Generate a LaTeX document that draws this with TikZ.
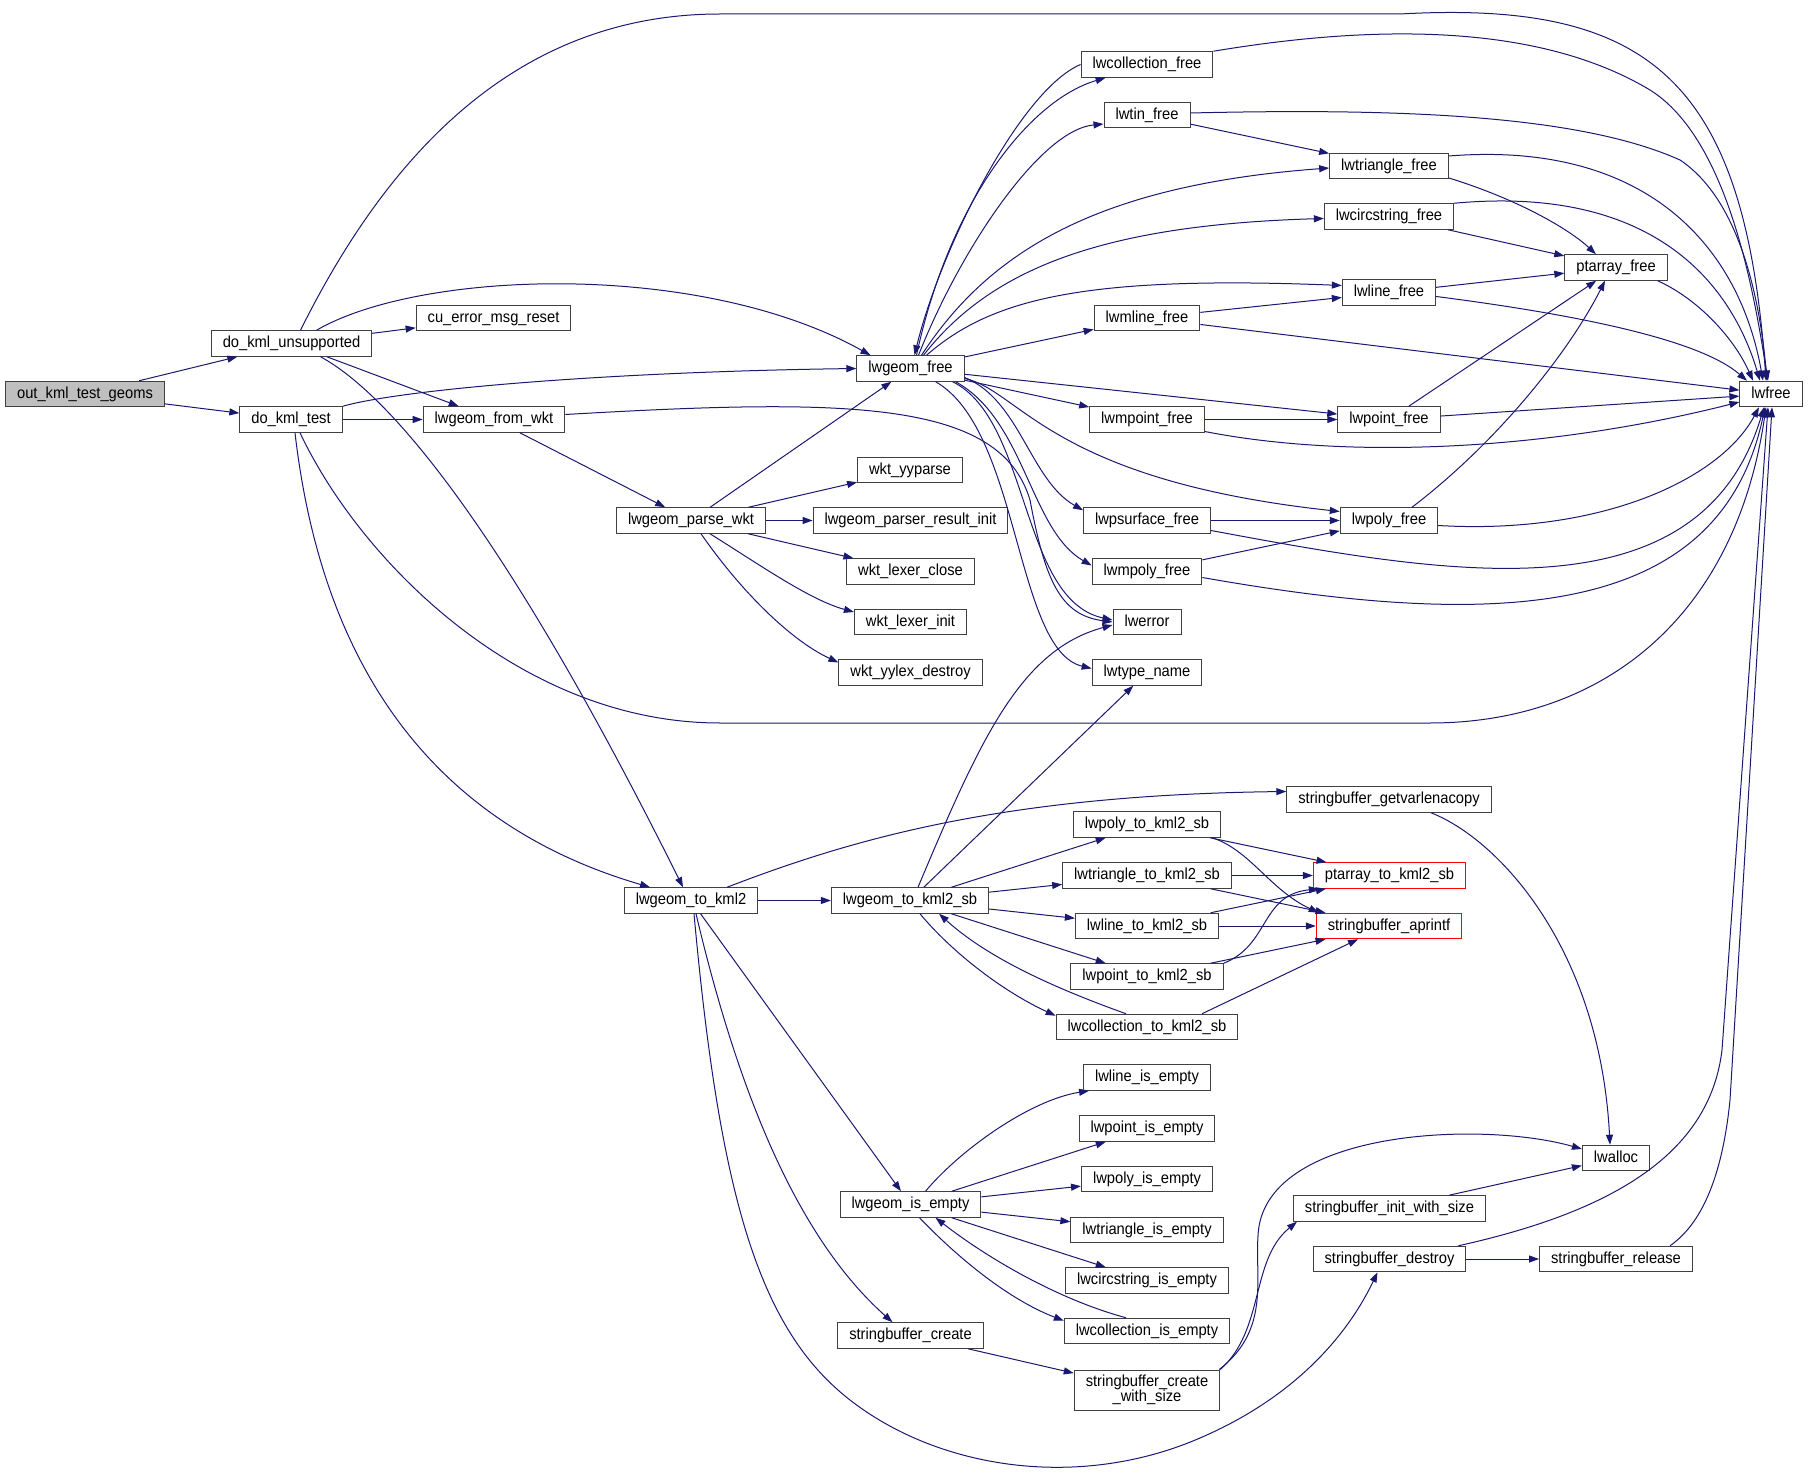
\documentclass[tikz,border=0pt]{standalone}
\usepackage{fontspec}
\setmainfont{Liberation Sans}[FakeStretch=0.92]
\usepackage{tikz}
\usetikzlibrary{arrows.meta}
\definecolor{callblue}{RGB}{25,25,112}
\definecolor{boxgray}{RGB}{64,64,64}
\definecolor{rootgray}{RGB}{191,191,191}
\tikzset{
  fnbox/.style={draw=boxgray, line width=1pt, fill=white, inner xsep=11.5pt, inner ysep=0pt,
    minimum height=25.5pt, text height=12pt, text depth=3.5pt, font=\fontsize{16}{18}\selectfont},
  rootbox/.style={fnbox, fill=rootgray},
  redbox/.style={fnbox, draw=red},
  call/.style={draw=callblue, line width=1pt, -{Triangle[length=10pt,width=7pt]}},
}

\begin{document}
\begin{tikzpicture}[x=1pt,y=-1pt]
        \useasboundingbox (0,0) rectangle (1808,1479);
        % callers
        \node[rootbox] (root) at (85,394) {out\_kml\_test\_geoms};
        \node[fnbox] (dku) at (291.5,343.5) {do\_kml\_unsupported};
        \node[fnbox] (dkt) at (291,419.5) {do\_kml\_test};
        \node[fnbox] (cuerr) at (493.5,318) {cu\_error\_msg\_reset};
        \node[fnbox] (fromwkt) at (494,419.5) {lwgeom\_from\_wkt};
        \node[fnbox] (parse) at (691,520.5) {lwgeom\_parse\_wkt};
        \node[fnbox] (tokml) at (691,900.5) {lwgeom\_to\_kml2};
        \node[fnbox] (gfree) at (910.5,368.5) {lwgeom\_free};
        \node[fnbox] (yyparse) at (910,470) {wkt\_yyparse};
        \node[fnbox] (resinit) at (910.5,520.5) {lwgeom\_parser\_result\_init};
        \node[fnbox] (lexclose) at (910.5,571.5) {wkt\_lexer\_close};
        \node[fnbox] (lexinit) at (910.5,622) {wkt\_lexer\_init};
        \node[fnbox] (yylexdestroy) at (910.5,672.5) {wkt\_yylex\_destroy};
        \node[fnbox] (tokmlsb) at (910,900.5) {lwgeom\_to\_kml2\_sb};
        \node[fnbox] (isempty) at (910.5,1204.5) {lwgeom\_is\_empty};
        \node[fnbox] (sbcreate) at (910.5,1335.5) {stringbuffer\_create};
        % middle column
        \node[fnbox] (collfree) at (1147,64.5) {lwcollection\_free};
        \node[fnbox] (tinfree) at (1147,115) {lwtin\_free};
        \node[fnbox] (mlinefree) at (1147,318) {lwmline\_free};
        \node[fnbox] (mpointfree) at (1147,419.5) {lwmpoint\_free};
        \node[fnbox] (psurffree) at (1147,520.5) {lwpsurface\_free};
        \node[fnbox] (mpolyfree) at (1147,571.5) {lwmpoly\_free};
        \node[fnbox] (lwerror) at (1147,622) {lwerror};
        \node[fnbox] (typename) at (1147,672.5) {lwtype\_name};
        \node[fnbox] (polykml) at (1147,824.5) {lwpoly\_to\_kml2\_sb};
        \node[fnbox] (trikml) at (1147,875.5) {lwtriangle\_to\_kml2\_sb};
        \node[fnbox] (linekml) at (1147,926) {lwline\_to\_kml2\_sb};
        \node[fnbox] (pointkml) at (1147,976.5) {lwpoint\_to\_kml2\_sb};
        \node[fnbox] (collkml) at (1147,1027) {lwcollection\_to\_kml2\_sb};
        \node[fnbox] (lineempty) at (1147,1077.5) {lwline\_is\_empty};
        \node[fnbox] (pointempty) at (1147,1128.5) {lwpoint\_is\_empty};
        \node[fnbox] (polyempty) at (1147,1179) {lwpoly\_is\_empty};
        \node[fnbox] (triempty) at (1147,1230) {lwtriangle\_is\_empty};
        \node[fnbox] (circempty) at (1147,1280.5) {lwcircstring\_is\_empty};
        \node[fnbox] (collempty) at (1147,1331) {lwcollection\_is\_empty};
        \node[fnbox, align=center, text height={}, text depth={}, minimum height=40pt,
              font=\fontsize{16}{15}\selectfont] (sbcws) at (1147,1390) {stringbuffer\_create\\\_with\_size};
        % right columns
        \node[fnbox] (trifree) at (1389,166) {lwtriangle\_free};
        \node[fnbox] (circfree) at (1389,216.5) {lwcircstring\_free};
        \node[fnbox] (linefree) at (1389,292.5) {lwline\_free};
        \node[fnbox] (pointfree) at (1389,419.5) {lwpoint\_free};
        \node[fnbox] (polyfree) at (1389,520.5) {lwpoly\_free};
        \node[fnbox] (getvar) at (1389,799.5) {stringbuffer\_getvarlenacopy};
        \node[redbox] (ptkml) at (1389.5,875.5) {ptarray\_to\_kml2\_sb};
        \node[redbox] (aprintf) at (1389,926) {stringbuffer\_aprintf};
        \node[fnbox] (initws) at (1389.5,1208.5) {stringbuffer\_init\_with\_size};
        \node[fnbox] (sbdestroy) at (1389.5,1259) {stringbuffer\_destroy};
        \node[fnbox] (ptfree) at (1616,267.5) {ptarray\_free};
        \node[fnbox] (lwalloc) at (1616,1158) {lwalloc};
        \node[fnbox] (release) at (1616,1259) {stringbuffer\_release};
        \node[fnbox] (lwfree) at (1771,394) {lwfree};

        % test functions
        \draw[call] (root) -- (dku);
        \draw[call] (root) -- (dkt);
        \draw[call] (dku) -- (cuerr);
        \draw[call] (dku) -- (fromwkt);
        \draw[call] ([xshift=9pt]dku.north) .. controls (390,150) and (520,14) .. (720,14) -- (1400,14)
                    .. controls (1650,0) and (1745,80) .. ([xshift=-5pt]lwfree.north);
        \draw[call] ([xshift=25pt]dku.north) .. controls (420,270) and (700,260) .. ([xshift=-40pt]gfree.north);
        \draw[call] ([xshift=29pt]dku.south) .. controls (400,400) and (520,560) .. ([xshift=-8pt]tokml.north);
        \draw[call] (dkt.north east) .. controls (400,390) and (600,372) .. (gfree.west);
        \draw[call] (dkt) -- (fromwkt);
        \draw[call] ([xshift=4pt]dkt.south) .. controls (320,650) and (420,820) .. ([xshift=-41pt]tokml.north);
        \draw[call] ([xshift=9pt]dkt.south) .. controls (360,560) and (520,723) .. (720,723) -- (1430,723)
                    .. controls (1600,723) and (1735,620) .. ([xshift=-5pt]lwfree.south);
        \draw[call] (fromwkt) -- (parse);
        \draw[call] ([yshift=5pt]fromwkt.east) .. controls (850,398) and (1000,400) .. (1030,500)
                    .. controls (1045,580) and (1060,615) .. (lwerror.west);

        % lwgeom_free
        \draw[call] ([xshift=6pt]gfree.north) .. controls (950,200) and (1030,100) .. ([xshift=25pt]collfree.south west);
        \draw[call] (collfree.west) .. controls (1020,90) and (940,250) .. ([xshift=4pt]gfree.north);
        \draw[call] ([xshift=8pt]gfree.north) .. controls (960,250) and (1040,130) .. ([yshift=-9pt]tinfree.west);
        \draw[call] ([xshift=11pt]gfree.north) .. controls (990,250) and (1100,185) .. ([yshift=-2pt]trifree.west);
        \draw[call] ([xshift=13pt]gfree.north) .. controls (990,270) and (1100,225) .. ([yshift=-2pt]circfree.west);
        \draw[call] ([xshift=16pt]gfree.north) .. controls (990,300) and (1080,275) .. ([yshift=7pt]linefree.west);
        \draw[call] (gfree) -- (mlinefree);
        \draw[call] (gfree) -- (pointfree);
        \draw[call] (gfree) -- (mpointfree);
        \draw[call] ([yshift=-10pt]gfree.east) .. controls (1020,390) and (1050,480) .. ([yshift=9pt]polyfree.west);
        \draw[call] ([yshift=-9pt]gfree.east) .. controls (1020,400) and (1030,480) .. ([yshift=-3pt]psurffree.north west);
        \draw[call] ([xshift=-9pt]gfree.south east) .. controls (1025,420) and (1030,530) .. ([yshift=6pt]mpolyfree.west);
        \draw[call] ([xshift=-12pt]gfree.south east) .. controls (1030,420) and (1020,600) .. ([yshift=2pt]lwerror.west);
        \draw[call] ([xshift=-29pt]gfree.south east) .. controls (1020,430) and (1015,650) .. ([yshift=4pt]typename.west);

        % free functions
        \draw[call] (tinfree) -- (trifree);
        \draw[call] (mlinefree) -- (linefree);
        \draw[call] (mpointfree) -- (pointfree);
        \draw[call] (psurffree) -- (polyfree);
        \draw[call] (mpolyfree) -- (polyfree);
        \draw[call] ([yshift=-12pt]trifree.east) .. controls (1520,200) and (1570,230) .. ([xshift=-20pt]ptfree.north);
        \draw[call] (circfree) -- (ptfree);
        \draw[call] (linefree) -- (ptfree);
        \draw[call] (pointfree) -- (ptfree);
        \draw[call] ([xshift=23pt]polyfree.north) .. controls (1500,440) and (1570,350) .. ([xshift=-11pt]ptfree.south);
        \draw[call] (collfree.north east) .. controls (1400,20) and (1550,30) .. (1650,90)
                    .. controls (1730,140) and (1755,300) .. ([xshift=-3pt]lwfree.north);
        \draw[call] ([yshift=2pt]tinfree.east) .. controls (1400,108) and (1580,115) .. (1680,160)
                    .. controls (1740,200) and (1760,300) .. ([xshift=-4pt]lwfree.north);
        \draw[call] ([yshift=10pt]trifree.east) .. controls (1650,140) and (1740,250) .. ([xshift=-8pt]lwfree.north);
        \draw[call] (circfree.north east) .. controls (1650,185) and (1730,280) .. ([xshift=-11pt]lwfree.north);
        \draw[call] ([xshift=-10pt]ptfree.south east) .. controls (1700,300) and (1735,340) .. ([xshift=-18pt]lwfree.north);
        \draw[call] ([yshift=-4pt]linefree.east) .. controls (1580,315) and (1700,340) .. ([xshift=-24pt]lwfree.north);
        \draw[call] (mlinefree) -- (lwfree);
        \draw[call] (pointfree) -- (lwfree);
        \draw[call] ([yshift=-12pt]mpointfree.east) .. controls (1350,460) and (1550,450) .. ([yshift=-8pt]lwfree.west);
        \draw[call] ([yshift=-5pt]polyfree.east) .. controls (1600,535) and (1720,480) .. ([xshift=-12pt]lwfree.south);
        \draw[call] ([yshift=-10pt]psurffree.east) .. controls (1450,575) and (1700,620) .. ([xshift=-7pt]lwfree.south);
        \draw[call] ([yshift=-6pt]mpolyfree.east) .. controls (1500,630) and (1720,620) .. ([xshift=-6pt]lwfree.south);

        % wkt parser
        \draw[call] (parse) -- (gfree);
        \draw[call] (parse) -- (yyparse);
        \draw[call] (parse) -- (resinit);
        \draw[call] (parse) -- (lexclose);
        \draw[call] ([xshift=19pt]parse.south) .. controls (760,565) and (810,600) .. ([yshift=10pt]lexinit.west);
        \draw[call] ([xshift=10pt]parse.south) .. controls (740,590) and (790,640) .. ([yshift=10pt]yylexdestroy.west);

        % kml output
        \draw[call] (tokml) -- (tokmlsb);
        \draw[call] ([xshift=36pt]tokml.north) .. controls (850,840) and (1000,795) .. ([yshift=8pt]getvar.west);
        \draw[call] (tokml) -- (isempty);
        \draw[call] ([xshift=5pt]tokml.south) .. controls (740,1100) and (800,1240) .. ([xshift=-18pt]sbcreate.north);
        \draw[call] ([xshift=3pt]tokml.south) .. controls (720,1200) and (760,1330) .. (850,1400)
                    .. controls (940,1470) and (1080,1490) .. (1200,1438)
                    .. controls (1300,1395) and (1350,1330) .. ([xshift=-12pt]sbdestroy.south);
        \draw[call] ([xshift=8pt]tokmlsb.north) .. controls (980,740) and (1020,650) .. ([yshift=-3pt]lwerror.west);
        \draw[call] (tokmlsb) -- (typename);
        \draw[call] (tokmlsb) -- (polykml);
        \draw[call] (tokmlsb) -- (trikml);
        \draw[call] (tokmlsb) -- (linekml);
        \draw[call] (tokmlsb) -- (pointkml);
        \draw[call] ([xshift=10pt]tokmlsb.south) .. controls (950,950) and (1000,990) .. ([yshift=-2pt]collkml.north west);
        \draw[call] ([xshift=-21pt]collkml.north) .. controls (1060,990) and (990,960) .. ([xshift=29pt]tokmlsb.south);
        \draw[call] (polykml) -- (ptkml);
        \draw[call] ([xshift=-9pt]polykml.south east) .. controls (1250,850) and (1270,890) .. ([xshift=3pt]aprintf.north west);
        \draw[call] (trikml) -- (ptkml);
        \draw[call] (trikml) -- (aprintf);
        \draw[call] (linekml) -- (ptkml);
        \draw[call] (linekml) -- (aprintf);
        \draw[call] (pointkml.north east) .. controls (1270,945) and (1260,895) .. ([xshift=6pt]ptkml.south west);
        \draw[call] (pointkml) -- (aprintf);
        \draw[call] ([xshift=55pt]collkml.north) -- ([xshift=-31pt]aprintf.south);
        \draw[call] ([xshift=42pt]getvar.south) .. controls (1500,840) and (1600,950) .. ([xshift=-6pt]lwalloc.north);

        % emptiness checks
        \draw[call] ([xshift=15pt]isempty.north) .. controls (960,1150) and (1030,1100) .. ([xshift=6pt]lineempty.south west);
        \draw[call] (isempty) -- (pointempty);
        \draw[call] (isempty) -- (polyempty);
        \draw[call] (isempty) -- (triempty);
        \draw[call] (isempty) -- (circempty);
        \draw[call] ([xshift=9pt]isempty.south) .. controls (960,1260) and (1010,1300) .. ([yshift=-3pt]collempty.north west);
        \draw[call] ([xshift=-21pt]collempty.north) .. controls (1060,1300) and (990,1260) .. ([xshift=25pt]isempty.south);

        % string buffers
        \draw[call] (sbcreate) -- (sbcws);
        \draw[call] ([xshift=-1pt]sbcws.north east) .. controls (1270,1330) and (1255,1280) .. (1258,1236)
                    .. controls (1262,1130) and (1480,1120) .. ([yshift=9pt]lwalloc.west);
        \draw[call] (sbcws.north east) .. controls (1265,1330) and (1250,1260) .. ([xshift=4pt]initws.south west);
        \draw[call] (initws) -- (lwalloc);
        \draw[call] (sbdestroy) -- (release);
        \draw[call] ([xshift=-8pt]sbdestroy.north east) .. controls (1620,1210) and (1710,1150) .. (1722,1050)
                    -- ([xshift=-3pt]lwfree.south);
        \draw[call] ([xshift=54pt]release.north) .. controls (1700,1225) and (1722,1180) .. (1730,1100)
                    -- ([xshift=1pt]lwfree.south);
    \end{tikzpicture}
\end{document}
